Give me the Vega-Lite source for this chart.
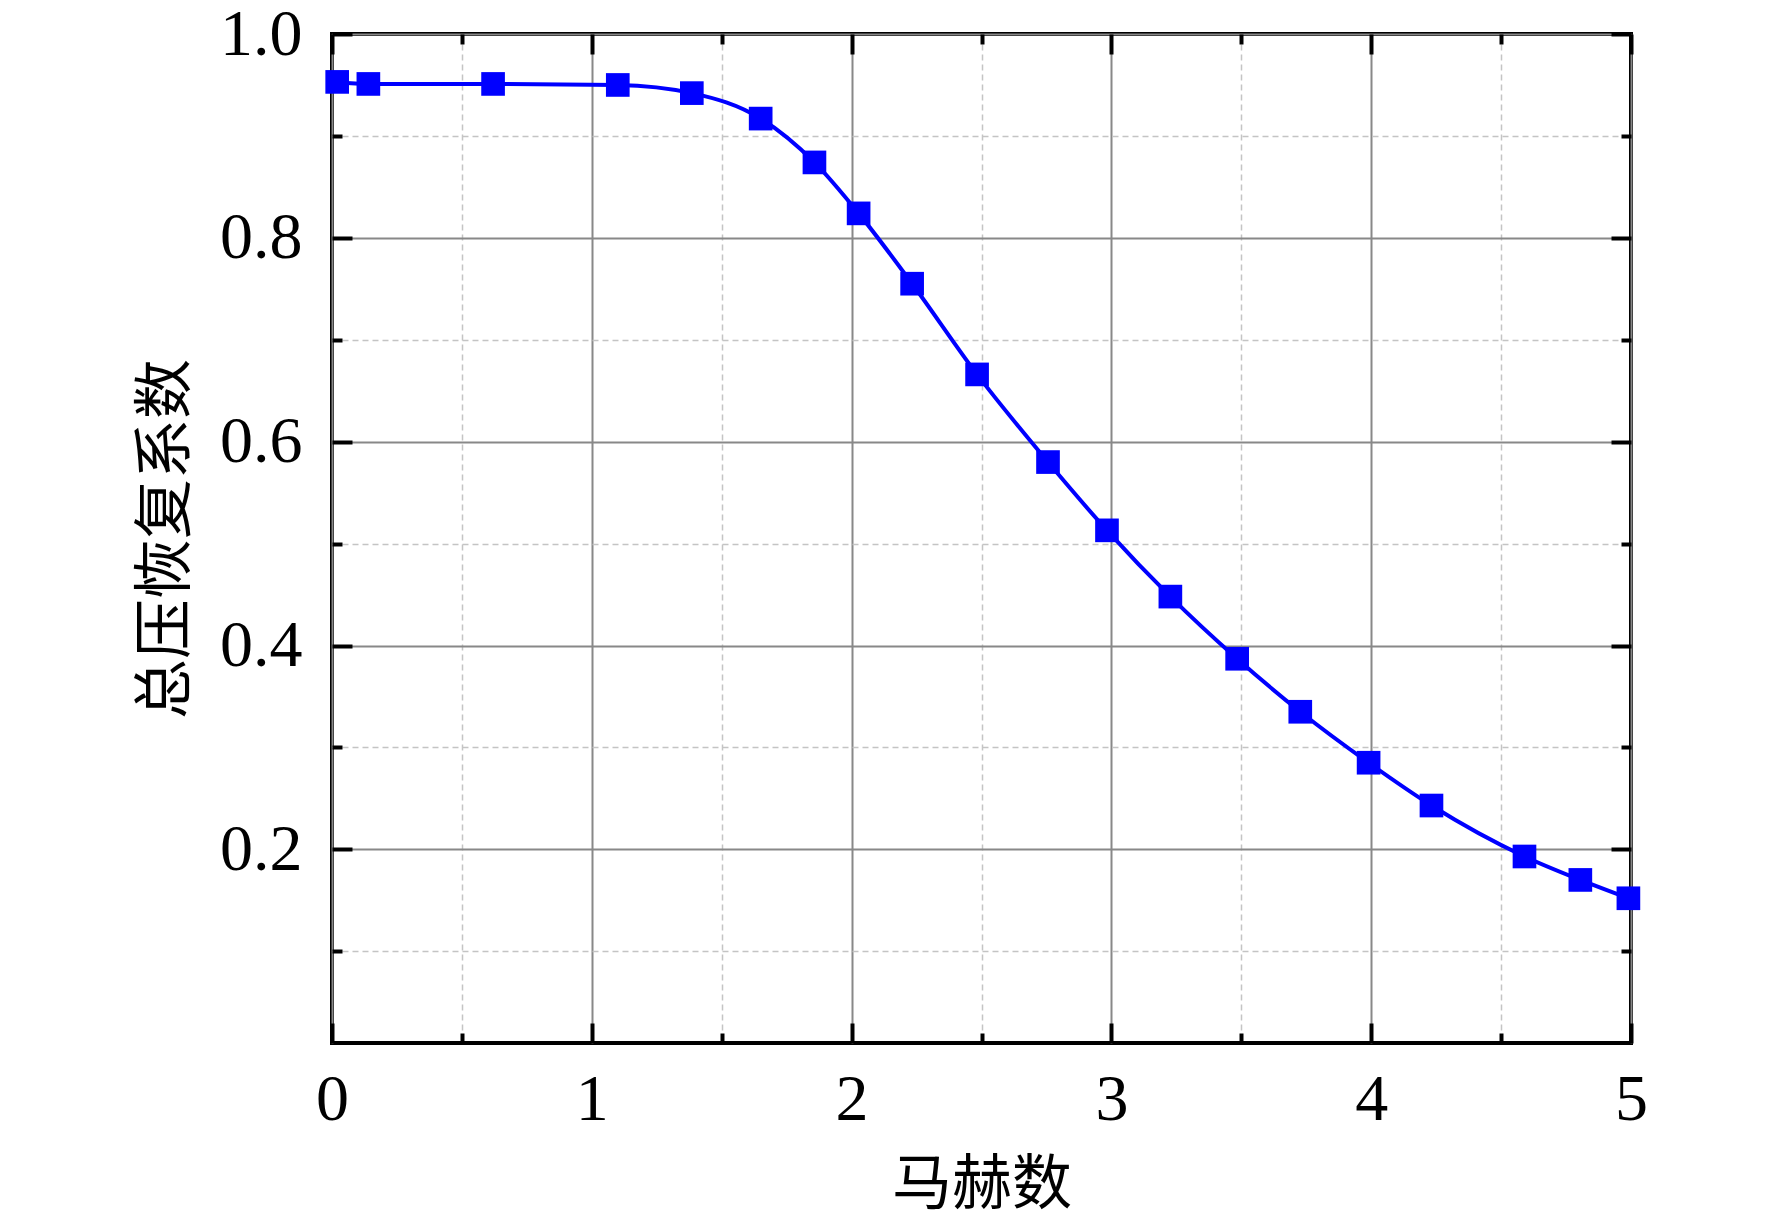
{
  "$schema": "https://vega.github.io/schema/vega-lite/v6.json",
  "autosize": {"type": "none"},
  "padding": {"left": 332, "top": 34, "right": 141, "bottom": 184},
  "width": 1299,
  "height": 1009,
  "background": "white",
  "data": {
    "values": [
      {"Ma": 0.02, "sigma": 0.953},
      {"Ma": 0.14, "sigma": 0.951},
      {"Ma": 0.62, "sigma": 0.951},
      {"Ma": 1.10, "sigma": 0.950},
      {"Ma": 1.385, "sigma": 0.942},
      {"Ma": 1.65, "sigma": 0.917},
      {"Ma": 1.857, "sigma": 0.874},
      {"Ma": 2.027, "sigma": 0.824},
      {"Ma": 2.233, "sigma": 0.755},
      {"Ma": 2.483, "sigma": 0.666},
      {"Ma": 2.756, "sigma": 0.580},
      {"Ma": 2.983, "sigma": 0.513},
      {"Ma": 3.227, "sigma": 0.448},
      {"Ma": 3.484, "sigma": 0.387},
      {"Ma": 3.727, "sigma": 0.335},
      {"Ma": 3.99, "sigma": 0.285},
      {"Ma": 4.232, "sigma": 0.243},
      {"Ma": 4.59, "sigma": 0.193},
      {"Ma": 4.805, "sigma": 0.170},
      {"Ma": 4.99, "sigma": 0.152}
    ]
  },
  "layer": [
    {
      "mark": {"type": "line", "color": "#0000ff", "strokeWidth": 4, "interpolate": "monotone", "clip": false},
      "encoding": {
        "x": {
          "field": "Ma",
          "type": "quantitative",
          "scale": {"domain": [0, 5], "nice": false, "zero": false},
          "axis": {
            "orient": "bottom",
            "title": "马赫数",
            "titleFont": "Noto Sans CJK SC",
            "titleFontSize": 60,
            "titleFontWeight": "normal",
            "titleColor": "black",
            "titlePadding": 14,
            "values": [0, 0.5, 1, 1.5, 2, 2.5, 3, 3.5, 4, 4.5, 5],
            "labelExpr": "abs(datum.value - round(datum.value)) < 0.01 ? format(datum.value, 'd') : ''",
            "labelFont": "Liberation Serif",
            "labelFontSize": 66,
            "labelColor": "black",
            "labelPadding": 44,
            "labelFlush": false,
            "labelOverlap": false,
            "domain": false,
            "tickColor": "black",
            "tickWidth": 4,
            "tickSize": {"condition": {"test": "abs(datum.value - round(datum.value)) < 0.01", "value": -20}, "value": -10},
            "grid": true,
            "gridColor": {"condition": {"test": "abs(datum.value - round(datum.value)) < 0.01", "value": "#888888"}, "value": "#c4c4c4"},
            "gridDash": {"condition": {"test": "abs(datum.value - round(datum.value)) < 0.01", "value": []}, "value": [6, 4]},
            "gridWidth": {"condition": {"test": "abs(datum.value - round(datum.value)) < 0.01", "value": 2}, "value": 1.5}
          }
        },
        "y": {
          "field": "sigma",
          "type": "quantitative",
          "scale": {"domain": [0.01, 1.0], "nice": false, "zero": false},
          "axis": {
            "orient": "left",
            "title": "总压恢复系数",
            "titleFont": "Noto Sans CJK SC",
            "titleFontSize": 60,
            "titleFontWeight": "normal",
            "titleColor": "black",
            "titlePadding": 22,
            "values": [0.1, 0.2, 0.3, 0.4, 0.5, 0.6, 0.7, 0.8, 0.9, 1.0],
            "labelExpr": "round(datum.value * 10) % 2 === 0 ? format(datum.value, '.1f') : ''",
            "labelFont": "Liberation Serif",
            "labelFontSize": 66,
            "labelColor": "black",
            "labelPadding": 50,
            "labelFlush": false,
            "labelOverlap": false,
            "domain": false,
            "tickColor": "black",
            "tickWidth": 4,
            "tickSize": {"condition": {"test": "round(datum.value * 10) % 2 === 0", "value": -20}, "value": -10},
            "grid": true,
            "gridColor": {"condition": {"test": "round(datum.value * 10) % 2 === 0", "value": "#888888"}, "value": "#c4c4c4"},
            "gridDash": {"condition": {"test": "round(datum.value * 10) % 2 === 0", "value": []}, "value": [6, 4]},
            "gridWidth": {"condition": {"test": "round(datum.value * 10) % 2 === 0", "value": 2}, "value": 1.5}
          }
        }
      }
    },
    {
      "mark": {"type": "point", "shape": "square", "filled": true, "color": "#0000ff", "size": 560, "opacity": 1, "clip": false},
      "encoding": {
        "x": {
          "field": "Ma",
          "type": "quantitative",
          "axis": {
            "orient": "top",
            "title": null,
            "labels": false,
            "grid": false,
            "domain": false,
            "values": [0, 0.5, 1, 1.5, 2, 2.5, 3, 3.5, 4, 4.5, 5],
            "tickColor": "black",
            "tickWidth": 4,
            "tickSize": {"condition": {"test": "abs(datum.value - round(datum.value)) < 0.01", "value": -20}, "value": -10}
          }
        },
        "y": {
          "field": "sigma",
          "type": "quantitative",
          "axis": {
            "orient": "right",
            "title": null,
            "labels": false,
            "grid": false,
            "domain": false,
            "values": [0.1, 0.2, 0.3, 0.4, 0.5, 0.6, 0.7, 0.8, 0.9, 1.0],
            "tickColor": "black",
            "tickWidth": 4,
            "tickSize": {"condition": {"test": "round(datum.value * 10) % 2 === 0", "value": -20}, "value": -10}
          }
        }
      }
    }
  ],
  "resolve": {"axis": {"x": "independent", "y": "independent"}},
  "config": {
    "view": {"stroke": "black", "strokeWidth": 4}
  }
}
